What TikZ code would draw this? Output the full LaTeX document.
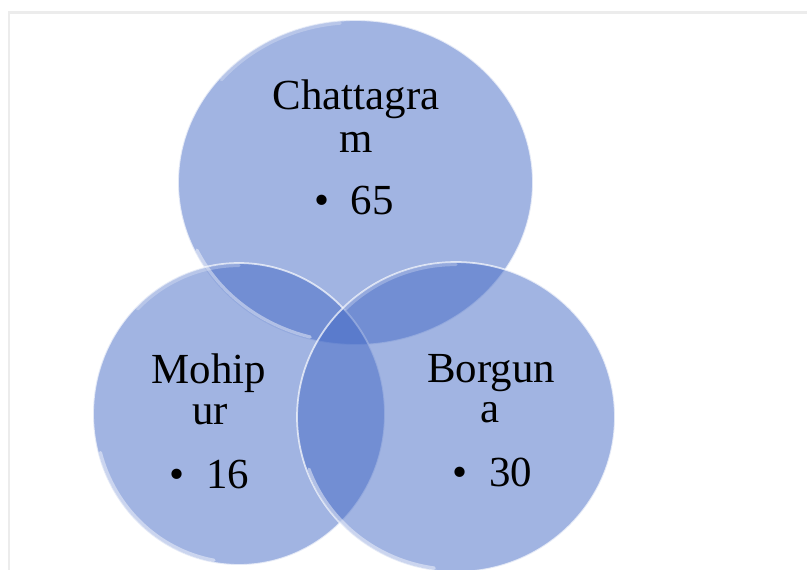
\documentclass[tikz,border=0pt]{standalone}
\usepackage{fontspec}
\setmainfont{Liberation Serif}
\usepackage{xcolor}
\usepackage{tikz}
\usetikzlibrary{shapes.geometric, positioning}
\definecolor{vennblue}{RGB}{68,106,198}
\definecolor{framegray}{RGB}{236,236,236}

\begin{document}
\begin{tikzpicture}[x=0.02cm, y=-0.02cm,
      blob/.style={ellipse, fill=vennblue, fill opacity=0.5, draw=white, draw opacity=0.7, line width=1pt, inner sep=0},
      gloss/.style={white, opacity=0.45, line width=1.8pt, line cap=round},
      lbl/.style={font=\fontsize{24.4}{22.5}\selectfont, text=black, inner sep=0, anchor=base},
      num/.style={font=\fontsize{24.4}{22.5}\selectfont, text=black, inner sep=0, anchor=base west}
    ]
    \useasboundingbox[fill=white] (0,0) rectangle (807,570);
    \draw[framegray, line width=1.6pt] (807,12.5) -- (9,12.5) -- (9,570);

    % Circles
    \node[blob, minimum width=7.1cm, minimum height=6.5cm] (chat) at (355.5,182.5) {};
    \node[blob, minimum width=5.84cm, minimum height=6.04cm] (mohi) at (239,414) {};
    \node[blob, minimum width=6.36cm, minimum height=6.2cm] (borg) at (456,417) {};

    % Gloss on the rims
    \begin{scope}[shift={(chat.center)}, x=1cm, y=1cm]
      \draw[gloss] (205:3.5cm and 3.2cm) arc[start angle=205, end angle=255, x radius=3.5cm, y radius=3.2cm];
      \draw[gloss, opacity=0.25] (95:3.5cm and 3.2cm) arc[start angle=95, end angle=140, x radius=3.5cm, y radius=3.2cm];
    \end{scope}
    \begin{scope}[shift={(mohi.center)}, x=1cm, y=1cm]
      \draw[gloss] (195:2.87cm and 2.97cm) arc[start angle=195, end angle=260, x radius=2.87cm, y radius=2.97cm];
      \draw[gloss, opacity=0.25] (90:2.87cm and 2.97cm) arc[start angle=90, end angle=135, x radius=2.87cm, y radius=2.97cm];
    \end{scope}
    \begin{scope}[shift={(borg.center)}, x=1cm, y=1cm]
      \draw[gloss] (200:3.13cm and 3.05cm) arc[start angle=200, end angle=262, x radius=3.13cm, y radius=3.05cm];
      \draw[gloss, opacity=0.25] (90:3.13cm and 3.05cm) arc[start angle=90, end angle=135, x radius=3.13cm, y radius=3.05cm];
    \end{scope}

    % Labels
    \node[lbl] (chatname) at (356,110) {Chattagra};
    \node[lbl] (chatrest) at (356,153) {m};
    \node[num] (chatval) at (314,215) {•\hspace{0.5em}65};

    \node[lbl] (mohiname) at (209,383) {Mohip};
    \node[lbl] (mohirest) at (210,424) {ur};
    \node[num] (mohival) at (169.5,488) {•\hspace{0.5em}16};

    \node[lbl] (borgname) at (491,382) {Borgun};
    \node[lbl] (borgrest) at (490,422) {a};
    \node[num] (borgval) at (452.5,486) {•\hspace{0.5em}30};

\end{tikzpicture}
\end{document}
